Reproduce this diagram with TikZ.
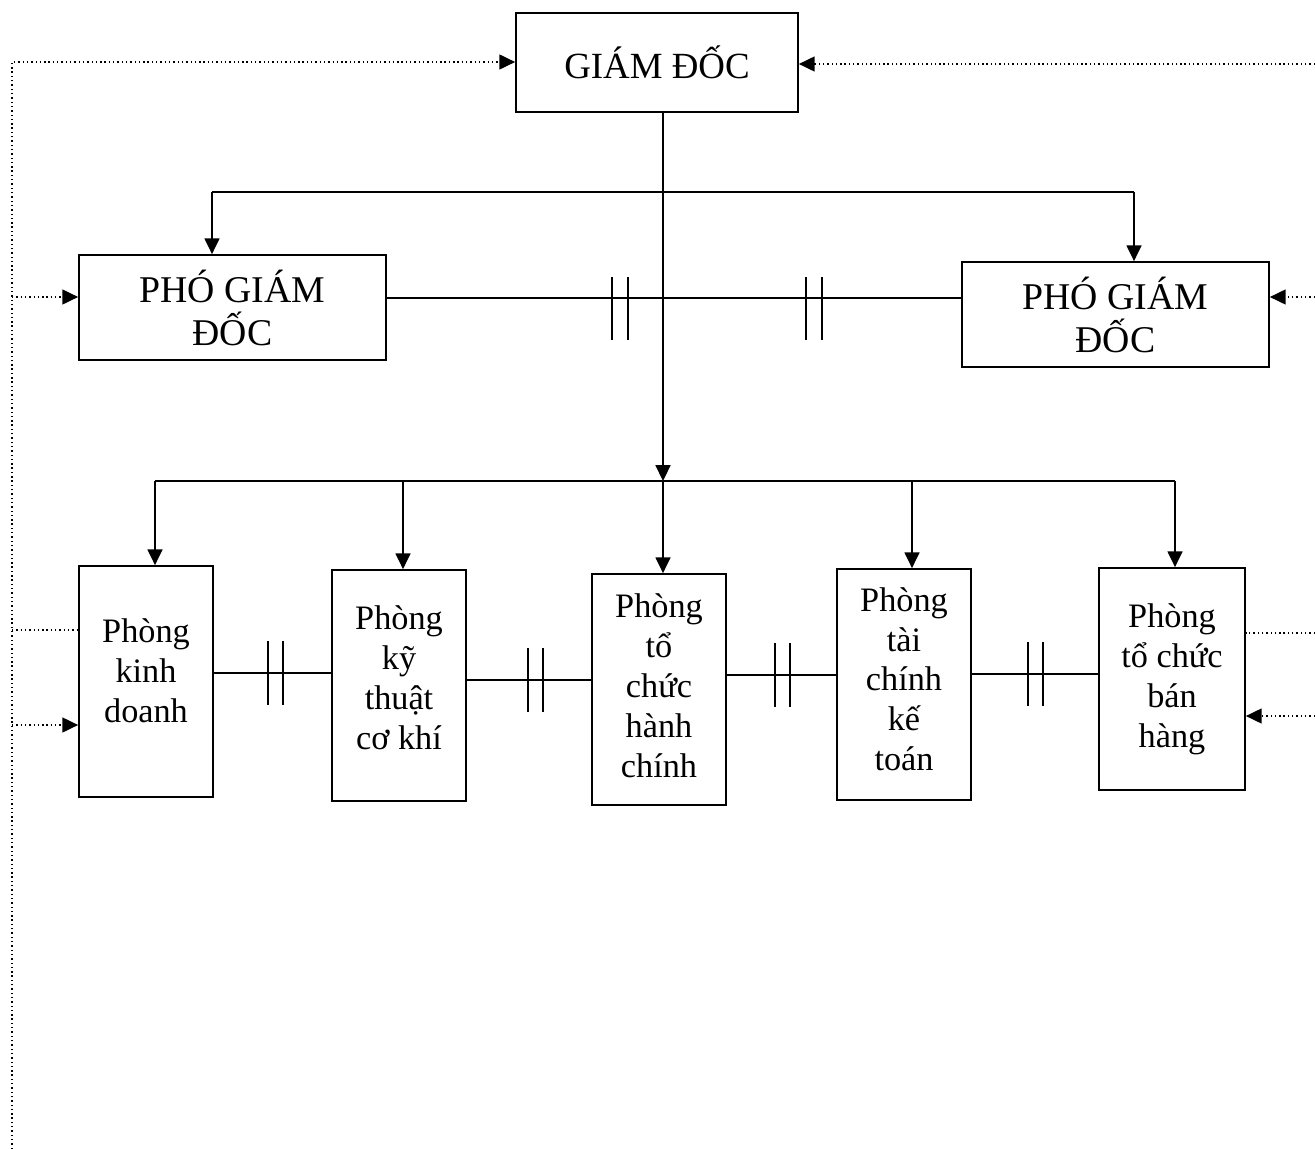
\documentclass[tikz,border=0pt]{standalone}
\usepackage{fontspec}
\setmainfont{Liberation Serif}
\usetikzlibrary{arrows.meta}

\begin{document}
\begin{tikzpicture}[
  x=0.02cm,
  y=-0.02cm,
  box/.style={draw=black,line width=1pt,align=center,inner sep=2pt},
  head/.style={box,font=\fontsize{21}{25}\selectfont,minimum width=5.64cm,minimum height=1.98cm},
  vice/.style={box,font=\fontsize{21.5}{24.5}\selectfont,minimum width=6.14cm,minimum height=2.1cm},
  dept/.style={box,minimum width=2.68cm,minimum height=4.62cm},
  dtext/.style={align=center,font=\fontsize{19.5}{22.7}\selectfont},
  link/.style={draw=black,line width=1pt},
  arrow/.style={link,-{Triangle[length=9pt,width=8.5pt]}},
  dots/.style={draw=black,line width=0.9pt,dash pattern=on 0.8pt off 1.65pt},
  dotarrow/.style={dots,-{Triangle[length=9pt,width=8.5pt]}}
]
  \useasboundingbox (0,0) rectangle (1315,1149);

  % boxes
  \node[head] (gd) at (657,62.5) {GIÁM ĐỐC};
  \node[vice] (pgdl) at (232.5,307.5) {PHÓ GIÁM\\ĐỐC};
  \node[vice] (pgdr) at (1115.5,314.5) {PHÓ GIÁM\\ĐỐC};
  \node[dept,label={[dtext,yshift=6pt]center:{Phòng\\kinh\\doanh}}] (pkd) at (146,681.5) {};
  \node[dept,label={[dtext,yshift=4.5pt]center:{Phòng\\kỹ\\thuật\\cơ khí}}] (pkt) at (399,685.5) {};
  \node[dept,label={[dtext,yshift=2pt]center:{Phòng\\tổ\\chức\\hành\\chính}}] (ptc) at (659,689.5) {};
  \node[dept,label={[dtext,yshift=3pt]center:{Phòng\\tài\\chính\\kế\\toán}}] (ptk) at (904,684.5) {};
  \node[dept,minimum width=2.92cm,minimum height=4.44cm,
        label={[dtext]center:{Phòng\\tổ chức\\bán\\hàng}}] (pbh) at (1172,679) {};

  % trunk and branches
  \coordinate (trunk) at (663,0);
  \coordinate (dbar) at (0,481);
  \draw[arrow] (gd.south -| trunk) -- (trunk |- dbar);
  \draw[arrow] (trunk |- dbar) -- (ptc.north -| trunk);
  \draw[link] (212,192) -- (1134,192);
  \draw[arrow] (212,192) -- (pgdl.north -| 212,0);
  \draw[arrow] (1134,192) -- (pgdr.north -| 1134,0);
  \draw[link] (155,481) -- (1175,481);
  \foreach \x/\n in {155/pkd,403/pkt,912/ptk,1175/pbh} {
    \draw[arrow] (\x,481) -- (\n.north -| \x,0);
  }

  % links between the same level
  \coordinate (r1) at (0,298);
  \draw[link] (pgdl.east |- r1) -- (pgdr.west |- r1);
  \foreach \x in {612,628,806,822} {
    \draw[link] (\x,277) -- (\x,340);
  }
  \foreach \a/\b/\y/\t in {pkd/pkt/673/268,pkt/ptc/680/528,ptc/ptk/675/775,ptk/pbh/674/1028} {
    \draw[link] (\a.east |- 0,\y) -- (\b.west |- 0,\y);
    \draw[link] (\t,\y-32) -- (\t,\y+32);
    \draw[link] (\t+15,\y-32) -- (\t+15,\y+32);
  }

  % dotted rails
  \coordinate (lt) at (12,62);
  \coordinate (lb) at (12,1149);
  \coordinate (rt) at (1315,64);
  \draw[dotarrow] (lb) -- (lt) -- (gd.west |- lt);
  \draw[dotarrow] (rt) -- (gd.east |- rt);
  \draw[dotarrow] (lt |- 0,297) -- (pgdl.west |- 0,297);
  \draw[dotarrow] (rt |- 0,297) -- (pgdr.east |- 0,297);
  \draw[dots] (lt |- 0,630) -- (pkd.west |- 0,630);
  \draw[dotarrow] (lt |- 0,725) -- (pkd.west |- 0,725);
  \draw[dots] (rt |- 0,633) -- (pbh.east |- 0,633);
  \draw[dotarrow] (rt |- 0,716) -- (pbh.east |- 0,716);
\end{tikzpicture}
\end{document}
